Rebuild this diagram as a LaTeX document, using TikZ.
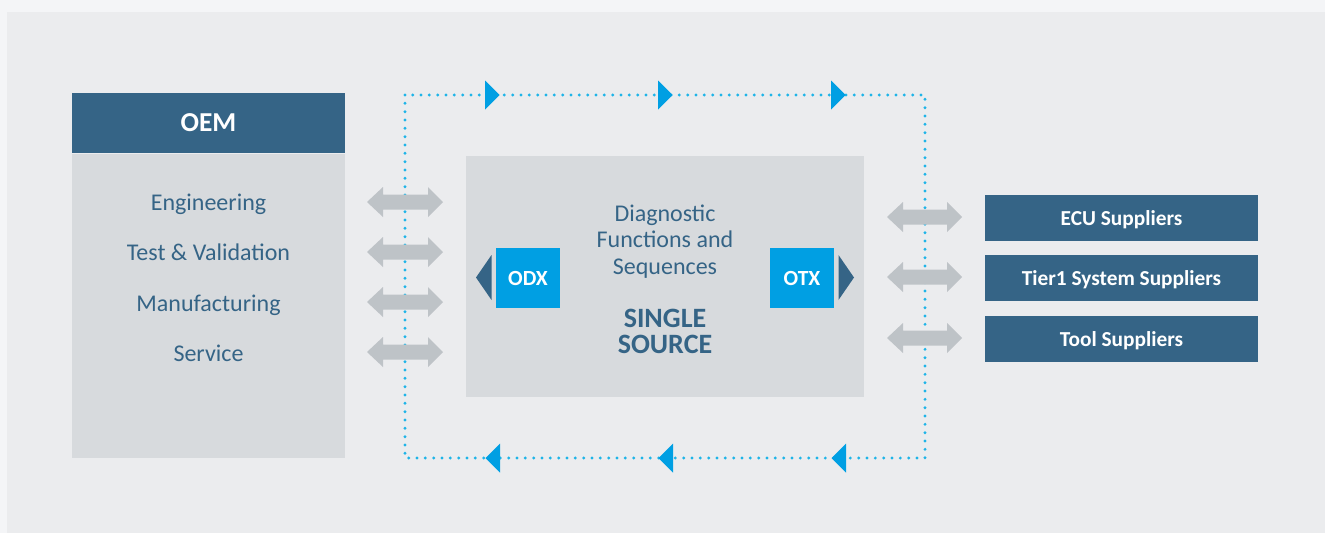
\documentclass[tikz,border=0pt]{standalone}
\usepackage{fontspec}
\setmainfont{Carlito}

\definecolor{pagebg}{RGB}{244,245,247}
\definecolor{panelbg}{RGB}{235,236,238}
\definecolor{boxgray}{RGB}{215,218,221}
\definecolor{oemblue}{RGB}{53,100,134}
\definecolor{odxblue}{RGB}{0,159,227}
\definecolor{dotblue}{RGB}{30,180,232}
\definecolor{arrowgray}{RGB}{190,195,199}

\begin{document}
\begin{tikzpicture}[x=0.75pt,y=-0.75pt,
  every node/.style={inner sep=0,outer sep=0},
  bluebox/.style={fill=oemblue,text=white,font=\bfseries\fontsize{16}{19}\selectfont,text depth=0pt,minimum width=204.75pt,minimum height=34.5pt},
  graybox/.style={fill=boxgray},
  roletext/.style={text=oemblue,font=\fontsize{18}{21}\selectfont,anchor=base},
  stdbox/.style={fill=odxblue,text=white,font=\bfseries\fontsize{16.2}{19}\selectfont,text depth=0pt,minimum width=48pt,minimum height=45pt},
  loopline/.style={dotblue,line width=2.4pt,line cap=round,dash pattern=on 0pt off 6.25pt},
  loophead/.style={fill=odxblue},
  exchange/.style={fill=arrowgray}]

\fill [pagebg] (0,0) rectangle (1325,533);
\fill [panelbg] (7,12) rectangle (1325,533);

% OEM side
\node [bluebox,font=\bfseries\fontsize{20.5}{24}\selectfont,minimum height=45pt] (oem) at (208.5,123) {OEM};
\node [graybox,minimum width=204.75pt,minimum height=228pt] (oembody) at (208.5,306) {};

\node [roletext] (eng) at (208.5,210) {Engineering};
\node [roletext] (test) at (208.5,260.5) {Test \& Validation};
\node [roletext] (manu) at (208.5,311) {Manufacturing};
\node [roletext] (serv) at (208.5,361.5) {Service};

% single source in the middle
\node [graybox,minimum width=298.5pt,minimum height=180.75pt] (source) at (665,276.5) {};

\node [roletext] (diag1) at (665,221) {Diagnostic};
\node [roletext] (diag2) at (665,247.5) {Functions and};
\node [roletext] (diag3) at (665,274) {Sequences};
\node [roletext,font=\bfseries\fontsize{21}{24}\selectfont] (single) at (665,327) {SINGLE};
\node [roletext,font=\bfseries\fontsize{21}{24}\selectfont] (srcword) at (665,353.5) {SOURCE};

\node [stdbox] (odx) at (528,278) {ODX};
\node [stdbox] (otx) at (802,278) {OTX};

\fill [oemblue] (491.5,255) -- (476,277.5) -- (491.5,300) -- cycle;
\fill [oemblue] (838.5,255) -- (854,277.5) -- (838.5,300) -- cycle;

% suppliers
\node [bluebox] (ecu) at (1121.5,218) {ECU Suppliers};
\node [bluebox] (tier) at (1121.5,278) {Tier1 System Suppliers};
\node [bluebox] (tool) at (1121.5,339) {Tool Suppliers};

% exchange loop
\draw [loopline] (405,95) rectangle (925,458);

\fill [loophead] (485,80.5) -- (499.5,95) -- (485,109.5) -- cycle;
\fill [loophead] (658,80.5) -- (672.5,95) -- (658,109.5) -- cycle;
\fill [loophead] (831,80.5) -- (845.5,95) -- (831,109.5) -- cycle;

\fill [loophead] (500,443.5) -- (485.5,458) -- (500,472.5) -- cycle;
\fill [loophead] (673,443.5) -- (658.5,458) -- (673,472.5) -- cycle;
\fill [loophead] (846,443.5) -- (831.5,458) -- (846,472.5) -- cycle;

% double arrows, left
\fill [exchange] (367,202) -- ++(16,-15) -- ++(0,7.5) -- ++(45,0) -- ++(0,-7.5) -- ++(15,15) -- ++(-15,15) -- ++(0,-7.5) -- ++(-45,0) -- ++(0,7.5) -- cycle;
\fill [exchange] (367,252) -- ++(16,-15) -- ++(0,7.5) -- ++(45,0) -- ++(0,-7.5) -- ++(15,15) -- ++(-15,15) -- ++(0,-7.5) -- ++(-45,0) -- ++(0,7.5) -- cycle;
\fill [exchange] (367,302) -- ++(16,-15) -- ++(0,7.5) -- ++(45,0) -- ++(0,-7.5) -- ++(15,15) -- ++(-15,15) -- ++(0,-7.5) -- ++(-45,0) -- ++(0,7.5) -- cycle;
\fill [exchange] (367,352) -- ++(16,-15) -- ++(0,7.5) -- ++(45,0) -- ++(0,-7.5) -- ++(15,15) -- ++(-15,15) -- ++(0,-7.5) -- ++(-45,0) -- ++(0,7.5) -- cycle;

% double arrows, right
\fill [exchange] (887,217) -- ++(16,-15) -- ++(0,7.5) -- ++(44,0) -- ++(0,-7.5) -- ++(15,15) -- ++(-15,15) -- ++(0,-7.5) -- ++(-44,0) -- ++(0,7.5) -- cycle;
\fill [exchange] (887,277) -- ++(16,-15) -- ++(0,7.5) -- ++(44,0) -- ++(0,-7.5) -- ++(15,15) -- ++(-15,15) -- ++(0,-7.5) -- ++(-44,0) -- ++(0,7.5) -- cycle;
\fill [exchange] (887,338) -- ++(16,-15) -- ++(0,7.5) -- ++(44,0) -- ++(0,-7.5) -- ++(15,15) -- ++(-15,15) -- ++(0,-7.5) -- ++(-44,0) -- ++(0,7.5) -- cycle;

\end{tikzpicture}
\end{document}
